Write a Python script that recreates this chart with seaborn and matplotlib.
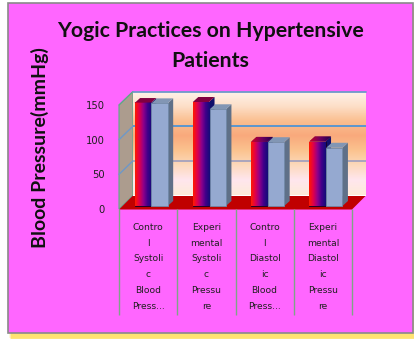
import numpy as np
import pandas as pd
import matplotlib
matplotlib.use("Agg")
import matplotlib.pyplot as plt
import seaborn as sns
from matplotlib.patches import Polygon, Rectangle
from matplotlib.colors import LinearSegmentedColormap

# ---------------- data ----------------
categories = ["Control Systolic Blood Pressure", "Experimental Systolic Pressure",
              "Control Diastolic Blood Pressure", "Experimental Diastolic Pressure"]
tick_labels = ["Contro\nl\nSystoli\nc\nBlood\nPress...",
               "Experi\nmental\nSystoli\nc\nPressu\nre",
               "Contro\nl\nDiastol\nic\nBlood\nPress...",
               "Experi\nmental\nDiastol\nic\nPressu\nre"]
series_names = ["Pre-test", "Post-test"]
pre_values = [148.5, 150.0, 92.5, 93.0]
post_values = [148.0, 139.5, 92.0, 84.0]
y_ticks = [0, 50, 100, 150]
title = "Yogic Practices on Hypertensive\nPatients"
y_label = "Blood Pressure(mmHg)"

df = pd.DataFrame({
    "category": categories * 2,
    "value": pre_values + post_values,
    "series": [series_names[0]] * 4 + [series_names[1]] * 4,
})

W, H = 420, 343
sns.set_theme(style="white")
plt.rcParams["font.family"] = ["DejaVu Sans"]

fig = plt.figure(figsize=(W / 100, H / 100), dpi=100)
fig.patch.set_facecolor("white")


def rect(x0, y0, x1, y1):
    return [x0 / W, 1 - y1 / H, (x1 - x0) / W, (y1 - y0) / H]


# decoration canvas in pixel coordinates
deco = fig.add_axes([0, 0, 1, 1], zorder=0)
deco.set_xlim(0, W)
deco.set_ylim(H, 0)
deco.axis("off")
for k, a in enumerate([0.15, 0.25, 0.4]):
    deco.add_patch(Rectangle((9 + k, 5 + k), 405 - k, 333 - k * 0.5,
                             facecolor="#FFD21A", edgecolor="none", alpha=a))
deco.add_patch(Rectangle((8, 3), 405, 330, facecolor="#FF66FF",
                         edgecolor="#8A8A8A", linewidth=1.2))

# geometry of the 3-D box
FX0, FX1, FY0, FY1 = 119, 352, 105, 209     # front plane
DX, DY = 14, -13.5                          # depth to back wall
BX0, BX1, BY0, BY1 = FX0 + DX, FX1 + DX, FY0 + DY, FY1 + DY

# back wall
back = fig.add_axes(rect(BX0, BY0, BX1, BY1), zorder=1)
grad_cols = ["#FDEBD8", "#FFE6EE", "#FCD9BC", "#FBC38F", "#F9A97C",
             "#FBBF90", "#FDDFC8", "#FFF2EA"]
wall_cmap = LinearSegmentedColormap.from_list("wall", grad_cols)
back.imshow(np.linspace(0, 1, 200).reshape(-1, 1), cmap=wall_cmap, aspect="auto",
            extent=(0, 1, 150, 0), zorder=0)
back.set_xlim(0, 1)
back.set_ylim(0, 150)
back.set_xticks([])
back.set_yticks(y_ticks)
back.set_yticklabels([])
back.tick_params(length=0)
back.grid(False)
for v, c in zip(y_ticks[1:], ["#A4A2BE", "#4F94D4", "#6E9AC8"]):
    back.axhline(v, color=c, lw=1.3, zorder=2)
for s in back.spines.values():
    s.set_visible(False)

# left wall and floor
deco.add_patch(Polygon([(FX0, FY1), (FX0, FY0), (BX0, BY0), (BX0, BY1)],
                       closed=True, facecolor="#AC9C8E", edgecolor="#5FA88A", lw=0.8))
deco.add_patch(Polygon([(FX0, FY1 + 0.5), (FX1, FY1 + 0.5), (BX1, BY1), (BX0, BY1)],
                       closed=True, facecolor="#C00000", edgecolor="none", zorder=3))

# front plane axes (ticks + table)
front = fig.add_axes(rect(FX0, FY0, FX1, FY1), zorder=2)
front.patch.set_alpha(0)
front.set_xlim(-0.5, len(categories) - 0.5)
front.set_ylim(0, 150)
front.set_yticks(y_ticks)
front.set_yticklabels([str(t) for t in y_ticks], fontsize=7.2, color="#202020")
front.tick_params(axis="y", length=0, pad=10)
front.set_xticks(range(len(categories)))
front.set_xticklabels(tick_labels, fontsize=6.6, color="#202020", linespacing=1.97)
front.tick_params(axis="x", length=0, pad=10)
for lab in front.get_xticklabels():
    lab.set_verticalalignment("top")
for s in front.spines.values():
    s.set_visible(False)
front.vlines(np.arange(len(categories) + 1) - 0.5, -1.02, 0,
             transform=front.get_xaxis_transform(), colors="#7FA487", lw=1.0, clip_on=False)

# left wall gridlines (front -> back)
to_deco = deco.transData.inverted()
for v in y_ticks[1:3]:
    p0 = to_deco.transform(front.transData.transform((-0.5, v)))
    p1 = to_deco.transform(back.transData.transform((0, v)))
    deco.plot([p0[0], p1[0]], [p0[1], p1[1]], color="#6E98C8", lw=1.0, zorder=2)
# front top edge of left wall
deco.plot([FX0, BX0], [FY0, BY0], color="#5FA88A", lw=0.8)
deco.plot([BX0, BX1], [BY0, BY0], color="#6E9AC8", lw=1.3, zorder=5)

# bars
bx, by = 3, -3
ax = fig.add_axes(rect(FX0 + bx, FY0 + by, FX1 + bx, FY1 + by), zorder=4)
ax.patch.set_alpha(0)
sns.barplot(data=df, x="category", y="value", hue="series", order=categories,
            hue_order=series_names, palette=["#6A0A80", "#95A9D0"], width=0.58,
            gap=0.04, legend=False, ax=ax, saturation=1)
ax.set_xlim(-0.5, len(categories) - 0.5)
ax.set_ylim(0, 150)
ax.axis("off")

ppx = ax.transData.transform((1, 0))[0] - ax.transData.transform((0, 0))[0]
ppy = ax.transData.transform((0, 1))[1] - ax.transData.transform((0, 0))[1]
ddx, ddy = 5.5 / ppx, 5.0 / ppy

dark_cmap = LinearSegmentedColormap.from_list(
    "dark", ["#FF1A00", "#E0004A", "#90008A", "#40008A", "#140C78"])
top_cmap = LinearSegmentedColormap.from_list("top", ["#D00020", "#700060", "#200050"])

styles = {0: dict(side="#10106A", top=None, edge="#100020"),
          1: dict(side="#5F7088", top="#8296B4", edge="#7088A8")}
bars = []
for ci, cont in enumerate(ax.containers):
    for p in cont.patches:
        bars.append((p.get_x(), ci, p))
bars.sort(key=lambda t: t[0])
for i, (_, ci, p) in enumerate(bars):
    z = 10 + i * 4
    x, w, h = p.get_x(), p.get_width(), p.get_height()
    st = styles[ci]
    side = Polygon([(x + w, 0), (x + w, h), (x + w + ddx, h + ddy), (x + w + ddx, ddy)],
                   closed=True, facecolor=st["side"], edgecolor="none", zorder=z,
                   clip_on=False)
    ax.add_patch(side)
    top = Polygon([(x, h), (x + w, h), (x + w + ddx, h + ddy), (x + ddx, h + ddy)],
                  closed=True, facecolor=st["top"] or "#800040", edgecolor="none",
                  zorder=z + 1, clip_on=False)
    ax.add_patch(top)
    if ci == 0:
        im = ax.imshow(np.linspace(0, 1, 50).reshape(1, -1), cmap=top_cmap,
                       aspect="auto", extent=(x, x + w + ddx, h, h + ddy),
                       zorder=z + 1.5)
        im.set_clip_path(top)
    p.set_zorder(z + 2)
    p.set_edgecolor(st["edge"])
    p.set_linewidth(0.6)
    p.set_clip_on(False)
    if ci == 0:
        im = ax.imshow(np.linspace(0, 1, 50).reshape(1, -1), cmap=dark_cmap,
                       aspect="auto", extent=(x, x + w, 0, h), zorder=z + 2.5)
        im.set_clip_path(p)
ax.set_xlim(-0.5, len(categories) - 0.5)
ax.set_ylim(0, 150)

# title and y label
fig.text(210 / W, 1 - 46 / H, title, ha="center", va="center", fontsize=15.3,
         fontweight="bold", family=["Lato", "DejaVu Sans"], linespacing=1.65,
         color="#101010")
fig.text(40 / W, 1 - 148 / H, y_label, ha="center", va="center", rotation=90,
         fontsize=14, fontweight="bold", family=["Lato", "DejaVu Sans"], color="#101010")

fig.savefig("out.png", dpi=100, facecolor=fig.get_facecolor())
